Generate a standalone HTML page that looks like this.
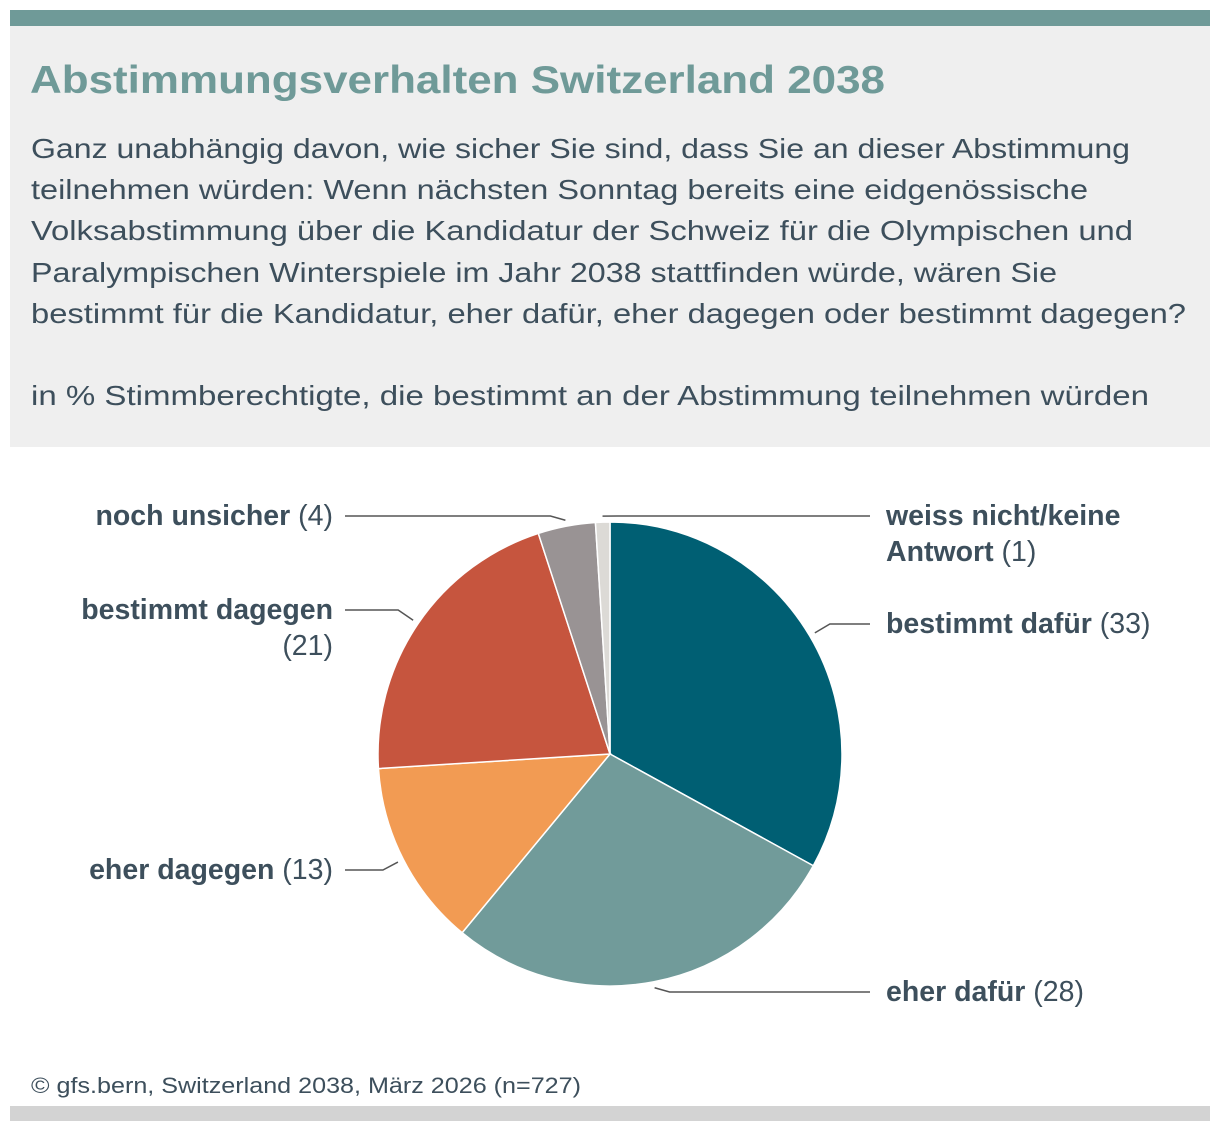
<!DOCTYPE html>
<html><head><meta charset="utf-8"><style>
html,body{margin:0;padding:0;background:#fff;}
svg{display:block;font-family:"Liberation Sans",sans-serif;}
</style></head><body>
<svg id="chart" width="1220" height="1132" viewBox="0 0 1220 1132">
<rect x="10" y="10" width="1200" height="16" fill="#6f9a98"/>
<rect x="10" y="26" width="1200" height="421" fill="#efefef"/>
<text x="30" y="93" font-size="39" font-weight="bold" fill="#6f9a98" textLength="855" lengthAdjust="spacingAndGlyphs">Abstimmungsverhalten Switzerland 2038</text>
<g fill="#3d4f5c" font-size="28">
<text x="31" y="158" textLength="1099" lengthAdjust="spacingAndGlyphs">Ganz unabhängig davon, wie sicher Sie sind, dass Sie an dieser Abstimmung</text>
<text x="31" y="199" textLength="1057" lengthAdjust="spacingAndGlyphs">teilnehmen würden: Wenn nächsten Sonntag bereits eine eidgenössische</text>
<text x="31" y="240" textLength="1102" lengthAdjust="spacingAndGlyphs">Volksabstimmung über die Kandidatur der Schweiz für die Olympischen und</text>
<text x="31" y="282" textLength="1026" lengthAdjust="spacingAndGlyphs">Paralympischen Winterspiele im Jahr 2038 stattfinden würde, wären Sie</text>
<text x="31" y="323" textLength="1155" lengthAdjust="spacingAndGlyphs">bestimmt für die Kandidatur, eher dafür, eher dagegen oder bestimmt dagegen?</text>
</g>
<text x="31" y="405" font-size="28" fill="#3d4f5c" textLength="1118" lengthAdjust="spacingAndGlyphs">in % Stimmberechtigte, die bestimmt an der Abstimmung teilnehmen würden</text>
<g id="pie"></g>
<g id="labels"></g>
<text x="31" y="1093" font-size="22" fill="#3d4f5c" textLength="550" lengthAdjust="spacingAndGlyphs">© gfs.bern, Switzerland 2038, März 2026 (n=727)</text>
<rect x="10" y="1106" width="1200" height="15" fill="#d3d3d3"/>
</svg>
<script>
const categories = ["bestimmt dafür","eher dafür","eher dagegen","bestimmt dagegen","noch unsicher","weiss nicht/keine Antwort"];
const values = [33,28,13,21,4,1];
const colors = ["#005f73","#719b9a","#f29b53","#c6553e","#999394","#dcdad6"];
const NS="http://www.w3.org/2000/svg";
const cx=610, cy=754, R=232;
const total=values.reduce((a,b)=>a+b,0);
function pt(frac,r){const a=frac*2*Math.PI;return [cx+r*Math.sin(a),cy-r*Math.cos(a)];}
const pie=document.getElementById('pie'), lab=document.getElementById('labels');
const layout=[
 {side:"r",y:624,lines:[["bestimmt dafür"," (33)"]]},
 {side:"r",y:992,lines:[["eher dafür"," (28)"]]},
 {side:"l",y:870,lines:[["eher dagegen"," (13)"]]},
 {side:"l",y:610,lines:[["bestimmt dagegen",""],["","(21)"]]},
 {side:"l",y:516,lines:[["noch unsicher"," (4)"]]},
 {side:"r",y:516,lines:[["weiss nicht/keine",""],["Antwort"," (1)"]]}
];
let cum=0;
values.forEach((v,i)=>{
  const f0=cum/total, f1=(cum+v)/total; cum+=v;
  const p0=pt(f0,R), p1=pt(f1,R);
  const large=(f1-f0)>0.5?1:0;
  const p=document.createElementNS(NS,'path');
  p.setAttribute('d',`M${cx},${cy}L${p0[0]},${p0[1]}A${R},${R} 0 ${large} 1 ${p1[0]},${p1[1]}Z`);
  p.setAttribute('fill',colors[i]);p.setAttribute('stroke','#fff');p.setAttribute('stroke-width','1.5');
  
  
  pie.appendChild(p);
  const L=layout[i]; const m=pt((f0+f1)/2,R+6);
  const endX=L.side==="r"?870:345;
  const elbowX=L.side==="r"?m[0]+15:m[0]-15;
  const ln=document.createElementNS(NS,'polyline');
  ln.setAttribute('points',`${m[0]},${m[1]} ${elbowX},${L.y} ${endX},${L.y}`);
  ln.setAttribute('fill','none');ln.setAttribute('stroke','#555');ln.setAttribute('stroke-width','1.5');
  
  
  lab.appendChild(ln);
  L.lines.forEach((row,k)=>{
    const t=document.createElementNS(NS,'text');
    t.setAttribute('x',L.side==="r"?886:333);
    t.setAttribute('y',L.y+9+k*36);
    t.setAttribute('text-anchor',L.side==="r"?"start":"end");
    t.setAttribute('font-size','28.5');t.setAttribute('fill','#3d4f5c');
    
    
    const b=document.createElementNS(NS,'tspan');b.setAttribute('font-weight','bold');b.textContent=row[0];
    const n=document.createElementNS(NS,'tspan');n.textContent=row[1];
    t.appendChild(b);t.appendChild(n);lab.appendChild(t);
  });
});
</script>
</body></html>
